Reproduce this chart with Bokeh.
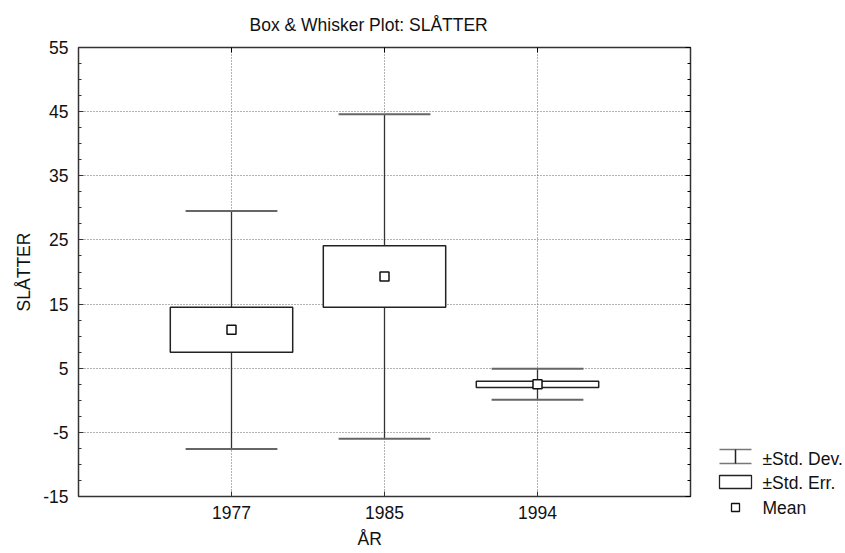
from bokeh.plotting import figure
from bokeh.models import (Range1d, FixedTicker, LinearAxis, Title, ColumnDataSource)
from bokeh.layouts import row
from bokeh.embed import file_html
from bokeh.resources import INLINE
from bokeh.core.properties import value

# ---- data ----
years = ["1977", "1985", "1994"]
means = [11.0, 19.3, 2.5]
se_low = [7.5, 14.5, 2.0]
se_high = [14.5, 24.1, 2.95]
sd_low = [-7.6, -6.0, 0.1]
sd_high = [29.5, 44.6, 4.9]
y_ticks = [-15, -5, 5, 15, 25, 35, 45, 55]
legend_labels = ["±Std. Dev.", "±Std. Err.", "Mean"]
title_text = "Box & Whisker Plot: SLÅTTER"
x_label = "ÅR"
y_label = "SLÅTTER"

FONT = "Liberation Sans"
FS = "17.5px"
pos = [i + 1 for i in range(len(years))]
minor = [t + k * 2.5 for t in y_ticks[:-1] for k in (1, 2, 3)]

src = ColumnDataSource(dict(
    x=pos,
    mean=means,
    se_lo=se_low, se_hi=se_high,
    sd_lo=sd_low, sd_hi=sd_high,
    box_l=[v - 0.4 for v in pos], box_r=[v + 0.4 for v in pos],
    cap_l=[v - 0.3 for v in pos], cap_r=[v + 0.3 for v in pos],
))

p = figure(width=700, height=553, output_backend="svg", toolbar_location=None,
           x_range=Range1d(0, len(years) + 1), y_range=Range1d(-15, 55),
           min_border_left=78, min_border_right=10, min_border_top=47,
           min_border_bottom=57)
p.title.visible = False
p.frame_align = False

p.outline_line_color = "#333333"
p.outline_line_width = 1.5
p.background_fill_color = "white"
p.border_fill_color = "white"

# axes
p.xaxis.ticker = FixedTicker(ticks=pos)
p.xaxis.major_label_overrides = {v: y for v, y in zip(pos, years)}
p.yaxis.ticker = FixedTicker(ticks=y_ticks, minor_ticks=minor)
p.yaxis.major_label_overrides = {t: str(t) for t in y_ticks}
for ax in (p.xaxis[0], p.yaxis[0]):
    ax.major_label_text_font = FONT
    ax.major_label_text_font_size = FS
    ax.major_label_text_color = "#111111"
    ax.axis_line_color = "#333333"
    ax.major_tick_in = 5
    ax.major_tick_out = 0
    ax.minor_tick_in = 3
    ax.minor_tick_out = 0
    ax.major_tick_line_color = "#333333"
    ax.minor_tick_line_color = "#333333"
    ax.major_label_standoff = 10
p.xaxis.major_label_standoff = 9
p.xaxis.minor_tick_line_color = None
p.yaxis.axis_label = y_label
p.yaxis.axis_label_text_font = FONT
p.yaxis.axis_label_text_font_size = FS
p.yaxis.axis_label_text_font_style = "normal"
p.yaxis.axis_label_text_color = "#111111"
p.yaxis.axis_label_standoff = 6

top = LinearAxis(ticker=FixedTicker(ticks=pos), major_label_text_color=None,
                 major_label_text_font_size="1px",
                 major_tick_in=5, major_tick_out=0, minor_tick_line_color=None,
                 axis_line_color="#333333", major_label_standoff=0)
right = LinearAxis(ticker=FixedTicker(ticks=y_ticks, minor_ticks=minor),
                   major_label_text_color=None, major_label_text_font_size="1px",
                   major_tick_in=5, major_tick_out=0,
                   minor_tick_in=3, minor_tick_out=0, axis_line_color="#333333",
                   major_label_standoff=0)
p.add_layout(top, "above")
p.add_layout(right, "right")

p.add_layout(Title(text=title_text, align="left", offset=171,
                   text_font=FONT, text_font_size=FS, text_font_style="normal",
                   text_color="#111111", standoff=25), "above")
p.add_layout(Title(text=x_label, align="left", offset=279, text_font=FONT,
                   text_font_size=FS, text_font_style="normal",
                   text_color="#111111", standoff=10), "below")

# grid
p.xgrid.grid_line_color = "#666666"
p.ygrid.grid_line_color = "#666666"
p.xgrid.grid_line_dash = "1 2"
p.ygrid.grid_line_dash = "1 2"
p.xgrid.grid_line_width = 1
p.ygrid.grid_line_width = 1

# glyphs
p.segment(x0="x", y0="sd_lo", x1="x", y1="sd_hi", source=src,
          line_color="#333333", line_width=1.3)
p.segment(x0="cap_l", y0="sd_lo", x1="cap_r", y1="sd_lo", source=src,
          line_color="#666666", line_width=2)
p.segment(x0="cap_l", y0="sd_hi", x1="cap_r", y1="sd_hi", source=src,
          line_color="#666666", line_width=2)
p.quad(left="box_l", right="box_r", bottom="se_lo", top="se_hi", source=src,
       fill_color="white", line_color="#222222", line_width=1.5)
p.scatter(x="x", y="mean", source=src, marker="square", size=9,
          fill_color="white", line_color="#111111", line_width=1.5)

# ---- legend panel ----
leg = figure(width=145, height=553, output_backend="svg", toolbar_location=None,
             x_range=Range1d(700, 845), y_range=Range1d(553, 0),
             x_axis_location=None, y_axis_location=None, title=None,
             min_border=0, min_border_left=0, min_border_right=0,
             min_border_top=0, min_border_bottom=0, outline_line_color=None)
leg.frame_align = False
leg.grid.visible = False
leg.segment(x0=[719, 719, 735], y0=[449, 463, 449], x1=[751, 751, 735], y1=[449, 463, 463],
            line_color=["#777777", "#777777", "#222222"], line_width=1.5)
leg.quad(left=[719], right=[751], top=[475], bottom=[488], fill_color="white",
         line_color="#222222", line_width=1.3)
leg.scatter(x=[735], y=[507], marker="square", size=8, fill_color="white",
            line_color="#111111", line_width=1.3)
leg.text(x=[762, 762, 762], y=[458, 482, 507], text=legend_labels,
         text_font=value(FONT), text_font_size=FS, text_baseline="middle",
         text_color="#111111")

layout = row(p, leg)
open("out.html", "w").write(file_html(layout, INLINE))
